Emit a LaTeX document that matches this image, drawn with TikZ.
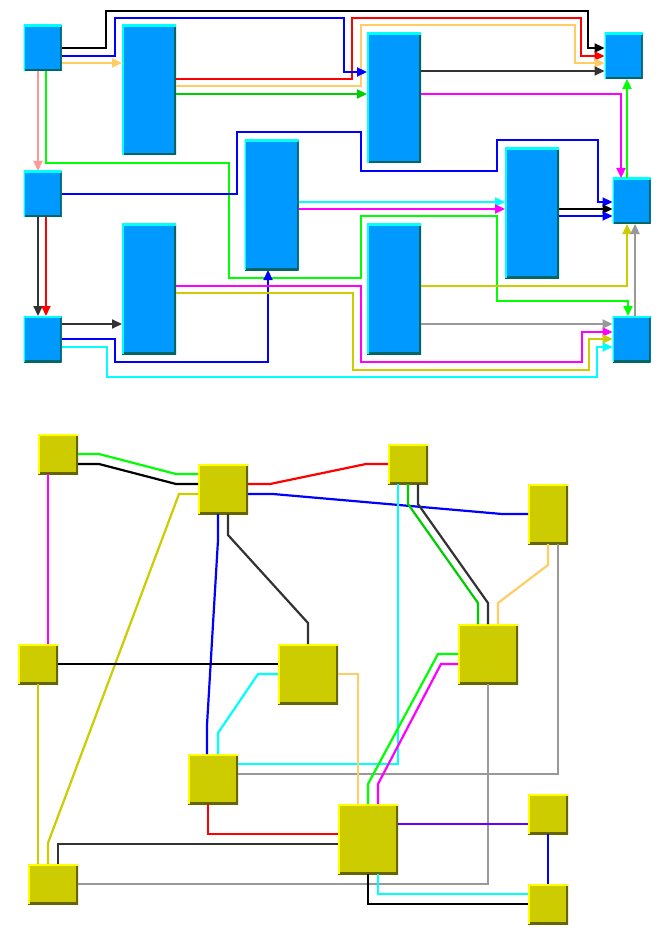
\documentclass[tikz,border=0pt]{standalone}
\usetikzlibrary{arrows.meta}
\definecolor{boxblue}{HTML}{0099FF}
\definecolor{bluehi}{HTML}{00FFFF}
\definecolor{bluelo}{HTML}{006666}
\definecolor{boxolive}{HTML}{CCCC00}
\definecolor{olivehi}{HTML}{FFFF00}
\definecolor{olivelo}{HTML}{666600}
\definecolor{eblack}{HTML}{000000}
\definecolor{eblue}{HTML}{0000FF}
\definecolor{eorange}{HTML}{FFCC66}
\definecolor{epink}{HTML}{FF9999}
\definecolor{egreen}{HTML}{00FF00}
\definecolor{edkgreen}{HTML}{00CC00}
\definecolor{ered}{HTML}{FF0000}
\definecolor{edkgray}{HTML}{333333}
\definecolor{emagenta}{HTML}{FF00FF}
\definecolor{ecyan}{HTML}{00FFFF}
\definecolor{eolive}{HTML}{CCCC00}
\definecolor{egray}{HTML}{999999}
\definecolor{epurple}{HTML}{6600FF}

\begin{document}
\begin{tikzpicture}[x=1pt, y=-1pt,
		bevel/.style 2 args={inner sep=0pt, outer sep=0pt, path picture={
			\draw[#2, line width=3.6pt] (path picture bounding box.north east) -- (path picture bounding box.south east) -- (path picture bounding box.south west);
			\draw[#1, line width=3.6pt] (path picture bounding box.south west) -- (path picture bounding box.north west) -- (path picture bounding box.north east);}},
		bbox/.style={fill=boxblue, bevel={bluehi}{bluelo}},
		sq/.style={bbox, minimum width=38pt, minimum height=46pt},
		tall/.style={bbox, minimum width=54pt, minimum height=130pt},
		ybox/.style={fill=boxolive, bevel={olivehi}{olivelo}},
		ln/.style={line width=2.2pt},
		arr/.style={line width=2.2pt, -{Triangle[length=10pt,width=9pt]}}]
		\useasboundingbox (0,0) rectangle (660,933);

		\node[sq] (A) at (42.5,48) {};
		\node[tall] (B) at (149,90) {};
		\node[sq] (C) at (42.5,194) {};
		\node[tall] (D) at (271.5,205) {};
		\node[tall] (E) at (149,289) {};
		\node[sq] (F) at (42.5,339) {};
		\node[tall] (G) at (394,98) {};
		\node[sq] (H) at (623.5,56) {};
		\node[tall] (I) at (532,213) {};
		\node[sq] (J) at (631.5,201) {};
		\node[tall] (K) at (394,289) {};
		\node[sq] (L) at (631.5,339) {};

		\draw[arr, eblack] (A.east |- 0,48) -| (106,11) -| (588,48) -- (H.west |- 0,48);
		\draw[arr, ered] (B.east |- 0,79) -| (352,18) -| (581,56) -- (H.west |- 0,56);
		\draw[arr, eorange] (B.east |- 0,86) -| (361,25) -| (575,63) -- (H.west |- 0,63);
		\draw[arr, eblue] (A.east |- 0,56) -| (115,18) -| (344,72) -- (G.west |- 0,72);
		\draw[arr, eorange] (A.east |- 0,63) -- (B.west |- 0,63);
		\draw[arr, epink] (A.south -| 38,0) -- (C.north -| 38,0);
		\draw[arr, egreen] (A.south -| 46,0) |- (229,163) |- (361,278) |- (497,216) |- (628,301) -- (L.north -| 628,0);
		\draw[arr, edkgreen] (B.east |- 0,94) -- (G.west |- 0,94);
		\draw[arr, edkgray] (G.east |- 0,71) -- (H.west |- 0,71);
		\draw[arr, emagenta] (G.east |- 0,94) -| (J.north -| 621,0);
		\draw[arr, egreen] (J.north -| 627,0) -- (H.south -| 627,0);
		\draw[arr, eblue] (C.east |- 0,194) -| (237,132) -| (361,171) -| (497,140) -| (598,202) -- (J.west |- 0,202);
		\draw[arr, edkgray] (C.south -| 38,0) -- (F.north -| 38,0);
		\draw[arr, ered] (C.south -| 46,0) -- (F.north -| 46,0);
		\draw[arr, edkgray] (F.east |- 0,324) -- (E.west |- 0,324);
		\draw[arr, eblue] (F.east |- 0,339) -| (115,362) -| (D.south -| 268,0);
		\draw[arr, ecyan] (F.east |- 0,347) -| (107,377) -| (597,347) -- (L.west |- 0,347);
		\draw[arr, ecyan] (D.east |- 0,202) -- (I.west |- 0,202);
		\draw[arr, emagenta] (D.east |- 0,209) -- (I.west |- 0,209);
		\draw[arr, emagenta] (E.east |- 0,286) -| (361,362) -| (582,332) -- (L.west |- 0,332);
		\draw[arr, eolive] (E.east |- 0,293) -| (353,370) -| (589,339) -- (L.west |- 0,339);
		\draw[arr, eolive] (K.east |- 0,286) -| (J.south -| 627,0);
		\draw[arr, egray] (K.east |- 0,324) -- (L.west |- 0,324);
		\draw[arr, egray] (L.north -| 635,0) -- (J.south -| 635,0);
		\draw[arr, eblack] (I.east |- 0,209) -- (J.west |- 0,209);
		\draw[arr, eblue] (I.east |- 0,216) -- (J.west |- 0,216);

		\node[ybox, minimum width=40pt, minimum height=40pt] (p1) at (58,454) {};
		\node[ybox, minimum width=50pt, minimum height=50pt] (p2) at (223,489) {};
		\node[ybox, minimum width=40pt, minimum height=40pt] (p3) at (408,464) {};
		\node[ybox, minimum width=40pt, minimum height=60pt] (p4) at (548,514) {};
		\node[ybox, minimum width=40pt, minimum height=40pt] (p5) at (38,664) {};
		\node[ybox, minimum width=60pt, minimum height=60pt] (p6) at (308,674) {};
		\node[ybox, minimum width=60pt, minimum height=60pt] (p7) at (488,654) {};
		\node[ybox, minimum width=50pt, minimum height=50pt] (p8) at (213,779) {};
		\node[ybox, minimum width=50pt, minimum height=40pt] (p9) at (53,884) {};
		\node[ybox, minimum width=60pt, minimum height=70pt] (p10) at (368,839) {};
		\node[ybox, minimum width=40pt, minimum height=40pt] (p11) at (548,814) {};
		\node[ybox, minimum width=40pt, minimum height=40pt] (p12) at (548,904) {};

		\draw[ln, egreen] (p1.east |- 0,454) -- (99,454) -- (176,474) -- (p2.west |- 0,474);
		\draw[ln, eblack] (p1.east |- 0,464) -- (99,464) -- (176,484) -- (p2.west |- 0,484);
		\draw[ln, eolive] (p2.west |- 0,494) -- (179,494) -- (48,843) -- (p9.north -| 48,0);
		\draw[ln, emagenta] (p1.south -| 48,0) -- (p5.north -| 48,0);
		\draw[ln, ered] (p2.east |- 0,484) -- (270,484) -- (366,464) -- (p3.west |- 0,464);
		\draw[ln, eblue] (p2.east |- 0,494) -- (273,494) -- (502,514) -- (p4.west |- 0,514);
		\draw[ln, eblue] (p2.south -| 218,0) -- (218,540) -- (207,725) -- (p8.north -| 207,0);
		\draw[ln, edkgray] (p2.south -| 228,0) -- (228,535) -- (308,623) -- (p6.north -| 308,0);
		\draw[ln, eblack] (p5.east |- 0,664) -- (p6.west |- 0,664);
		\draw[ln, eolive] (p5.south -| 38,0) -- (p9.north -| 38,0);
		\draw[ln, ecyan] (p3.south -| 398,0) |- (p8.east |- 0,764);
		\draw[ln, edkgreen] (p3.south -| 408,0) -- (408,504) -- (478,603) -- (p7.north -| 478,0);
		\draw[ln, edkgray] (p3.south -| 418,0) -- (418,504) -- (488,603) -- (p7.north -| 488,0);
		\draw[ln, eorange] (p4.south -| 548,0) -- (548,565) -- (498,603) -- (p7.north -| 498,0);
		\draw[ln, egray] (p4.south -| 558,0) |- (p8.east |- 0,774);
		\draw[ln, ecyan] (p6.west |- 0,674) -- (258,674) -- (218,733) -- (p8.north -| 218,0);
		\draw[ln, eorange] (p6.east |- 0,674) -| (p10.north -| 358,0);
		\draw[ln, egreen] (p7.west |- 0,654) -- (438,654) -- (368,784) -- (p10.north -| 368,0);
		\draw[ln, emagenta] (p7.west |- 0,664) -- (441,664) -- (378,784) -- (p10.north -| 378,0);
		\draw[ln, egray] (p7.south -| 488,0) |- (p9.east |- 0,884);
		\draw[ln, ered] (p8.south -| 208,0) |- (p10.west |- 0,834);
		\draw[ln, edkgray] (p9.north -| 58,0) |- (p10.west |- 0,844);
		\draw[ln, epurple] (p10.east |- 0,824) -- (p11.west |- 0,824);
		\draw[ln, eblue] (p11) -- (p12);
		\draw[ln, ecyan] (p10.south -| 378,0) |- (p12.west |- 0,894);
		\draw[ln, eblack] (p10.south -| 368,0) |- (p12.west |- 0,904);
	\end{tikzpicture}
\end{document}
